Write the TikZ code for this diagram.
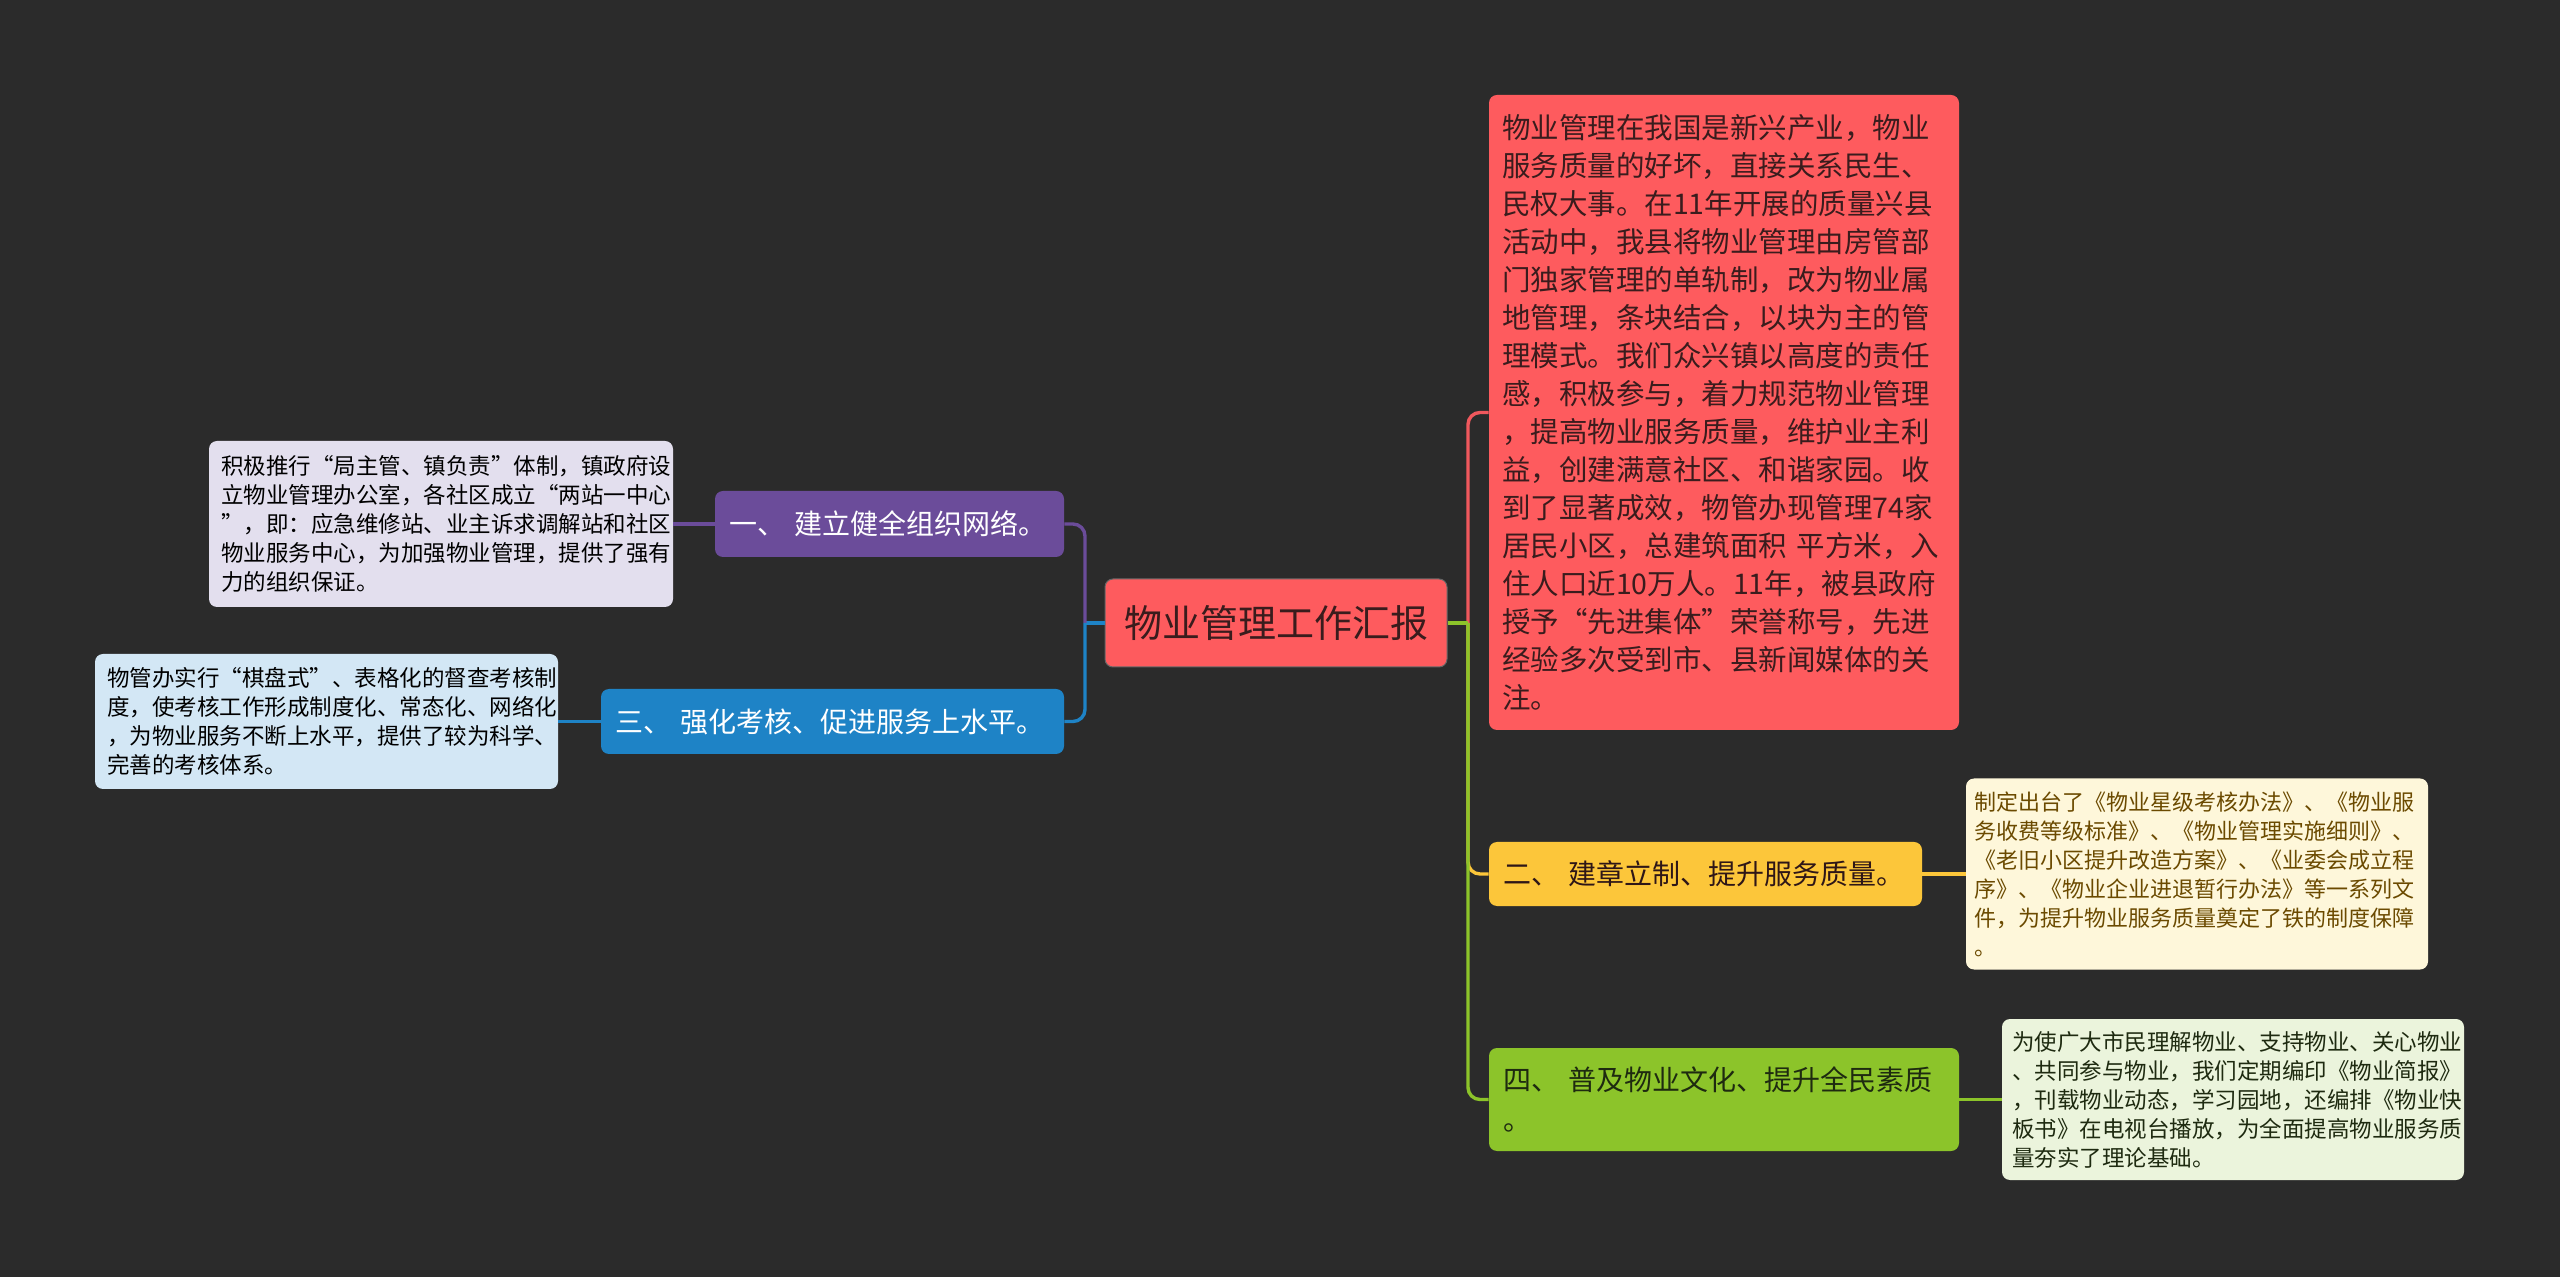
\documentclass[tikz,border=0pt]{standalone}
\usepackage{fontspec}
\setmainfont{Noto Sans CJK SC}
\definecolor{bg}{HTML}{2B2B2B}
\definecolor{rootred}{HTML}{FE5B5E}
\definecolor{darktxt}{HTML}{3A1C1D}
\definecolor{purp}{HTML}{6B4C9A}
\definecolor{blu}{HTML}{1E83C6}
\definecolor{yel}{HTML}{FCC63A}
\definecolor{grn}{HTML}{8CC42A}
\definecolor{leafpurp}{HTML}{E3DFEE}
\definecolor{leafblu}{HTML}{D3E7F5}
\definecolor{leafyel}{HTML}{FEF7DA}
\definecolor{leafgrn}{HTML}{EBF4DC}
\definecolor{browntxt}{HTML}{6B4A00}
\definecolor{greentxt}{HTML}{1E2A10}
\definecolor{redline}{HTML}{F0585D}
\tikzset{
  box/.style={rectangle, rounded corners=4pt, inner ysep=0pt, align=left},
  rootbox/.style={box, fill=rootred, draw=black!60, line width=0.5pt, text=darktxt, align=center,
     font=\fontsize{19}{24}\selectfont, minimum width=171pt, minimum height=44pt},
  bigbox/.style={box, fill=rootred, text=darktxt, font=\fontsize{14.25}{19}\selectfont, inner xsep=6.5pt},
  branchbox/.style={box, text=white, font=\fontsize{14}{20}\selectfont, inner xsep=7pt},
  leafbox/.style={box, text=black, font=\fontsize{11.25}{14.5}\selectfont, inner xsep=6pt},
  conn/.style={line width=1.7pt},
}
\begin{document}
\begin{tikzpicture}[x=0.5pt,y=-0.5pt]
\useasboundingbox[fill=bg] (0,0) rectangle (2560,1277);

% root
\node[rootbox] (root) at (1276,623) {物业管理工作汇报};

% big red right
\node[bigbox, text width=222pt, minimum height=317.5pt] (big) at (1724,412.5)
{物业管理在我国是新兴产业，物业\\服务质量的好坏，直接关系民生、\\民权大事。在11年开展的质量兴县\\活动中，我县将物业管理由房管部\\门独家管理的单轨制，改为物业属\\地管理，条块结合，以块为主的管\\理模式。我们众兴镇以高度的责任\\感，积极参与，着力规范物业管理\\，提高物业服务质量，维护业主利\\益，创建满意社区、和谐家园。收\\到了显著成效，物管办现管理74家\\居民小区，总建筑面积 平方米，入\\住人口近10万人。11年，被县政府\\授予“先进集体”荣誉称号，先进\\经验多次受到市、县新闻媒体的关\\注。};

% branches
\node[branchbox, fill=purp, text width=160.5pt, minimum height=33pt] (b1) at (889.5,524) {\mbox{一、 建立健全组织网络。}};
\node[branchbox, fill=blu, text width=217.5pt, minimum height=32.5pt] (b3) at (832.5,721.5) {\mbox{三、 强化考核、促进服务上水平。}};
\node[branchbox, fill=yel, text=darktxt!80!black, text width=202.5pt, minimum height=32pt] (b2) at (1705.5,874) {\mbox{二、 建章立制、提升服务质量。}};
\node[branchbox, fill=grn, text=greentxt, text width=221pt, minimum height=51.5pt] (b4) at (1724,1099.5) {\mbox{四、 普及物业文化、提升全民素质}\\。};

% leaves
\node[leafbox, fill=leafpurp, text width=220pt, minimum height=83pt] (l1) at (441,524)
{积极推行“局主管、镇负责”体制，镇政府设\\立物业管理办公室，各社区成立“两站一中心\\”，即：应急维修站、业主诉求调解站和社区\\物业服务中心，为加强物业管理，提供了强有\\力的组织保证。};
\node[leafbox, fill=leafblu, text width=219.5pt, minimum height=67.5pt] (l3) at (326.5,721.5)
{物管办实行“棋盘式”、表格化的督查考核制\\度，使考核工作形成制度化、常态化、网络化\\，为物业服务不断上水平，提供了较为科学、\\完善的考核体系。};
\node[leafbox, fill=leafyel, text=browntxt, inner xsep=4pt, text width=223pt, minimum height=95.5pt,
  font=\fontsize{11}{14.5}\selectfont] (l2) at (2197,874)
{制定出台了《物业星级考核办法》、《物业服\\务收费等级标准》、《物业管理实施细则》、\\《老旧小区提升改造方案》、《业委会成立程\\序》、《物业企业进退暂行办法》等一系列文\\件，为提升物业服务质量奠定了铁的制度保障\\。};
\node[leafbox, fill=leafgrn, text=greentxt, inner xsep=5pt, text width=221pt, minimum height=80.5pt] (l4) at (2233,1099.5)
{为使广大市民理解物业、支持物业、关心物业\\、共同参与物业，我们定期编印《物业简报》\\，刊载物业动态，学习园地，还编排《物业快\\板书》在电视台播放，为全面提高物业服务质\\量夯实了理论基础。};

% junctions
\coordinate (jr) at (1468,623);
\coordinate (jl) at (1085,623);

% right connectors
\draw[conn, redline] (root.east) -- (jr);
\draw[conn, redline, rounded corners=6pt] (jr) |- (big.west);
\draw[conn, yel, rounded corners=6pt] (jr) |- (b2.west);
\draw[conn, grn] (root.east) -- (jr);
\draw[conn, grn, rounded corners=6pt] (jr) |- (b4.west);

% left connectors
\draw[conn, blu] (root.west) -- (jl);
\draw[conn, purp, rounded corners=6pt] (jl) |- (b1.east);
\draw[conn, blu, rounded corners=6pt] (jl) |- (b3.east);

% leaf connectors
\draw[conn, purp] (b1.west) -- (l1.east);
\draw[conn, blu] (b3.west) -- (l3.east);
\draw[conn, yel] (b2.east) -- (l2.west);
\draw[conn, grn] (b4.east) -- (l4.west);
\end{tikzpicture}
\end{document}
